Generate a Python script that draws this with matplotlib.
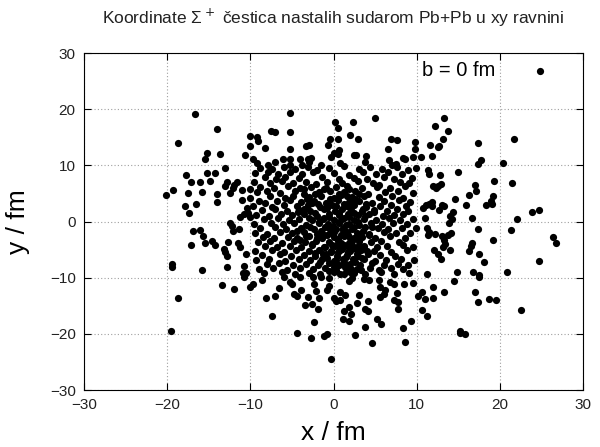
import matplotlib
matplotlib.use('Agg')
import matplotlib.pyplot as plt
import numpy as np

plt.rcParams['font.family'] = ['Liberation Sans', 'DejaVu Sans']

# vanjski dio raspodjele (ocitano s grafa)
halo = [
    (-16.6, 19.1), (-14.0, 16.5), (-18.7, 14.0), (-15.2, 12.3), (-15.5, 11.1), (-13.6, 12.0), (-10.6, 11.8),
    (-10.1, 15.2), (-10.0, 13.5), (-5.3, 19.4), (0.2, 17.7), (0.5, 16.7), (2.3, 17.7), (5.0, 18.4),
    (-7.5, 16.2), (-7.0, 16.0), (-5.2, 16.0), (-9.2, 15.0), (-9.1, 14.3), (-8.2, 13.1), (-5.3, 13.0),
    (-3.3, 13.5), (-2.9, 13.7), (-0.7, 13.7), (-0.4, 14.7), (0.5, 14.7), (2.0, 15.5), (2.9, 14.8),
    (0.7, 12.8), (0.0, 12.2), (-0.3, 11.5), (0.5, 12.0), (2.5, 11.8), (2.7, 11.8), (3.9, 11.7),
    (3.8, 10.6), (6.5, 13.0), (6.9, 14.8), (7.6, 14.5), (9.8, 14.2), (9.8, 12.9), (9.6, 11.5),
    (6.6, 11.0), (8.3, 11.4), (8.6, 11.1), (-9.7, 11.1), (-9.2, 10.4), (-7.1, 10.6), (-7.9, 10.0),
    (-6.1, 11.1), (-5.2, 11.1), (-4.0, 11.1), (-3.1, 11.1), (-2.7, 11.3), (-2.9, 10.6), (-1.5, 10.0),
    (0.8, 10.5), (-5.3, 10.1), (-3.8, 10.1), (7.0, 10.1), (7.5, 10.3),
    (13.3, 18.4), (12.2, 17.1), (13.8, 16.2), (13.2, 14.7), (11.6, 13.7), (12.6, 13.3), (12.7, 13.5),
    (11.8, 11.7), (10.5, 11.5), (17.4, 14.0), (21.7, 14.7), (17.7, 11.0), (17.4, 10.3), (20.4, 10.4),
    (-13.1, 9.5), (-15.2, 8.7), (-14.3, 8.7), (-17.7, 8.3), (-17.1, 7.1), (-16.0, 7.1), (-14.9, 7.3),
    (-12.8, 7.0), (-13.0, 6.3), (-12.0, 6.5), (-11.6, 7.0), (-12.1, 6.0), (-12.4, 5.1), (-19.3, 5.7),
    (-20.1, 4.7), (-17.5, 5.1), (-15.8, 5.3), (-14.0, 4.9), (-14.0, 3.5), (-16.5, 3.2), (-17.9, 2.7),
    (-17.4, 1.5), (-11.0, 5.6), (-11.0, 3.9), (-10.1, 5.8), (-10.1, 4.2), (-10.4, 2.5), (-11.3, 0.9),
    (-10.8, 1.3), (-10.3, 1.5), (-10.1, 0.8), (-12.5, -0.3), (-12.2, -0.8), (-12.1, -1.6), (-11.4, -1.3),
    (-16.9, -1.6), (-16.0, -1.5), (-15.7, -2.5), (-17.1, -4.1), (-15.4, -3.9), (-14.6, -3.5), (-14.2, -4.1),
    (-12.7, -3.7), (-13.2, -4.9), (-13.0, -5.4), (-12.8, -6.1), (-11.5, -3.9), (-11.2, -4.5), (-10.5, -5.7),
    (-19.4, -7.5), (-19.4, -8.1), (-15.8, -8.6), (-12.8, -8.0), (-10.8, -7.9), (-10.9, -9.2), (-10.5, -9.2),
    (-18.7, -13.6), (-19.5, -19.5), (-13.4, -11.3), (-12.0, -12.0), (-10.1, -11.7), (-10.8, -9.9),
    (-8.6, -10.4), (-9.7, -11.1), (-8.1, -13.6), (-7.1, -13.3), (-6.6, -11.8), (-7.4, -16.8), (-5.2, -10.8),
    (-5.0, -11.1), (-4.7, -12.9), (-4.4, -13.3), (-3.9, -12.1), (-3.1, -13.4), (-3.4, -14.9), (-2.6, -14.6),
    (-1.9, -15.5), (-1.7, -13.6), (-2.1, -12.3), (-2.3, -11.1), (-0.8, -12.1), (-0.6, -11.5), (-2.4, -17.9),
    (-4.4, -19.9), (-2.7, -20.7), (-1.1, -20.4), (-0.8, -20.1), (-0.3, -24.4), (0.0, -13.6), (0.3, -14.2),
    (0.8, -13.9), (0.8, -12.6), (1.4, -13.1), (1.2, -16.0), (1.8, -15.3), (2.1, -16.5), (1.1, -17.3),
    (1.9, -17.7), (2.6, -20.2), (2.8, -14.5), (3.1, -13.1), (4.1, -14.2), (3.8, -15.6), (4.1, -16.0),
    (3.8, -18.7), (4.6, -21.7), (5.2, -17.3), (5.7, -18.2), (5.6, -11.7), (6.0, -12.9), (5.6, -13.4),
    (6.2, -12.2), (7.3, -13.9), (7.7, -14.3), (7.8, -15.6), (7.6, -12.7), (6.8, -10.8), (7.3, -11.1),
    (8.5, -11.1), (9.5, -10.9), (9.3, -17.7), (8.4, -19.0), (8.6, -21.5), (4.3, -10.4), (5.4, -10.4),
    (3.6, -10.2), (1.8, -10.5), (2.2, -10.1), (-0.5, -10.0), (-1.5, -9.9), (-2.5, -9.9), (-4.0, -9.9),
    (-6.0, -9.9),
    (14.5, -10.5), (17.5, -9.9), (12.0, -11.6), (13.3, -12.6), (10.6, -12.6), (10.1, -13.3), (11.0, -13.8),
    (12.0, -13.6), (10.6, -15.8), (11.2, -16.8), (17.0, -12.6), (17.4, -14.3), (18.7, -13.8), (19.5, -14.0),
    (22.5, -15.8), (15.2, -19.4), (15.2, -19.8), (15.8, -20.0),
    (11.3, 9.2), (11.5, 8.4), (12.8, 8.3), (14.9, 8.8), (9.9, 9.5), (19.3, 7.3), (21.4, 6.8),
    (17.0, 6.6), (17.1, 5.4), (12.0, 6.4), (12.3, 6.0), (12.9, 6.7), (12.5, 6.3), (16.3, 4.7),
    (14.6, 4.0), (19.2, 4.5), (18.9, 3.7), (19.0, 3.1), (18.3, 2.9), (15.9, 2.9), (11.8, 3.5),
    (11.5, 3.1), (10.8, 2.5), (11.1, 2.9), (11.8, 2.8), (13.0, 2.9), (13.3, 2.8), (12.7, 2.0),
    (14.3, 1.7), (14.0, 1.0), (14.2, 0.4), (13.9, -0.3), (11.0, 0.6), (16.6, 0.6), (9.9, -1.2),
    (23.9, 1.7), (24.7, 2.0), (22.1, 0.4), (11.2, -1.1), (11.5, -1.8), (11.4, -2.4), (12.2, -2.2),
    (13.0, -2.6), (13.3, -3.3), (13.4, -4.0), (13.2, -4.5), (13.8, -2.4), (14.1, -2.0), (17.4, -1.3),
    (19.2, -3.2), (16.6, -3.8), (16.5, -4.4), (16.3, -5.3), (14.0, -5.0), (12.1, -5.0), (12.6, -5.7),
    (12.9, -6.6), (17.5, -5.8), (18.1, -7.2), (21.3, -1.5), (26.4, -2.8), (26.7, -3.9), (24.7, -7.0),
    (11.2, -9.3), (14.8, -9.0), (16.8, -9.0), (17.5, -9.5), (20.8, -9.0),
]

# gusti sredisnji dio (procjena)
core = [
    (-8.8, 9.6), (-7.4, 9.3), (-6.0, 9.8), (-4.6, 9.4), (-3.1, 9.7), (-2.0, 9.2), (-0.6, 9.6), (1.3, 9.9),
    (3.0, 9.3), (4.4, 9.7), (5.8, 9.4), (7.6, 9.8), (8.9, 9.2),
    (-9.4, 8.6), (-7.9, 8.9), (-6.7, 8.4), (-5.3, 8.8), (-3.8, 8.5), (-2.5, 8.9), (0.1, 8.6), (1.9, 8.3),
    (3.5, 8.8), (5.1, 8.5), (6.5, 8.9), (8.2, 8.4),
    (-8.3, 7.9), (-6.9, 7.6), (-5.9, 8.0), (-4.2, 7.7), (-1.4, 7.9), (0.6, 7.5), (2.4, 7.8), (4.0, 7.6),
    (6.0, 7.9), (7.3, 7.5), (9.4, 7.8),
    (-9.6, 7.0), (-7.6, 6.8), (-6.2, 7.2), (-4.9, 6.9), (-3.3, 7.1), (-2.1, 6.7), (-0.8, 7.0), (1.0, 6.8),
    (2.9, 7.2), (4.7, 6.9), (5.5, 6.6), (8.0, 7.1), (9.1, 6.8),
    (-8.9, 6.2), (-7.2, 5.9), (-5.5, 6.3), (-4.0, 6.0), (-2.7, 6.2), (-1.1, 5.8), (0.3, 6.1), (1.6, 6.4),
    (3.4, 5.9), (5.2, 6.2), (6.8, 6.0), (8.6, 6.3),
    (-9.2, 5.3), (-8.0, 5.5), (-6.5, 5.1), (-4.6, 5.4), (-3.5, 5.0), (-1.8, 5.3), (-0.4, 5.5), (1.2, 5.2),
    (2.6, 5.4), (4.1, 5.0), (6.2, 5.3), (7.7, 5.5), (9.5, 5.1),
    (-7.6, 4.5), (-5.9, 4.2), (-4.9, 4.6), (-2.9, 4.3), (-1.5, 4.5), (0.0, 4.2), (0.9, 4.7), (2.2, 4.4),
    (3.7, 4.6), (5.5, 4.3), (7.0, 4.5), (8.4, 4.2),
    (-9.0, 3.7), (-8.2, 3.4), (-6.8, 3.6), (-5.2, 3.8), (-3.9, 3.5), (-2.4, 3.7), (-0.9, 3.4), (0.5, 3.8),
    (1.8, 3.5), (3.0, 3.7), (4.6, 3.4), (6.1, 3.6), (7.9, 3.8), (9.2, 3.5),
    (-9.7, 2.8), (-7.4, 2.6), (-6.0, 3.0), (-4.4, 2.7), (-3.1, 2.9), (-1.6, 2.6), (-0.2, 2.9), (1.4, 2.7),
    (2.5, 3.0), (3.9, 2.6), (5.6, 2.8), (6.9, 3.0), (8.7, 2.7),
    (-8.6, 2.0), (-7.0, 2.2), (-5.6, 1.8), (-4.1, 2.1), (-2.8, 1.9), (-1.2, 2.2), (0.2, 1.9), (1.0, 2.3),
    (2.1, 2.0), (3.4, 1.8), (4.8, 2.1), (6.4, 1.9), (7.6, 2.2), (9.0, 1.8),
    (-9.3, 1.2), (-7.8, 1.0), (-6.3, 1.4), (-5.0, 1.1), (-3.6, 1.3), (-2.0, 1.0), (-0.6, 1.3), (0.7, 1.1),
    (1.7, 1.4), (2.9, 1.1), (4.2, 1.3), (5.9, 1.0), (7.3, 1.2), (8.3, 1.4),
    (-8.4, 0.4), (-6.7, 0.6), (-5.4, 0.3), (-4.2, 0.5), (-2.6, 0.2), (-1.3, 0.5), (0.0, 0.3), (1.3, 0.6),
    (2.4, 0.2), (3.6, 0.5), (5.1, 0.3), (6.6, 0.6), (8.0, 0.2), (9.6, 0.5),
    (-9.6, -0.4), (-7.5, -0.2), (-6.1, -0.5), (-4.7, -0.3), (-3.3, -0.6), (-1.8, -0.3), (-0.7, -0.5),
    (0.6, -0.2), (1.9, -0.4), (3.1, -0.6), (4.5, -0.3), (5.8, -0.5), (7.1, -0.2), (8.8, -0.4),
    (-8.8, -1.2), (-7.1, -1.0), (-5.7, -1.4), (-3.9, -1.1), (-2.4, -1.3), (-1.0, -1.0), (0.3, -1.4),
    (1.1, -1.1), (2.2, -1.3), (3.8, -1.0), (5.3, -1.2), (6.5, -1.4), (8.2, -1.1),
    (-9.4, -2.0), (-8.0, -2.2), (-6.4, -1.8), (-5.0, -2.1), (-3.5, -1.9), (-2.0, -2.2), (-0.4, -2.0),
    (0.9, -2.3), (1.6, -1.9), (2.8, -2.1), (4.3, -2.2), (6.0, -1.9), (7.5, -2.1), (9.2, -2.0),
    (-8.5, -2.8), (-7.2, -3.0), (-5.5, -2.7), (-4.4, -2.9), (-2.9, -2.6), (-1.4, -3.0), (0.1, -2.8),
    (1.3, -2.6), (2.4, -3.0), (3.4, -2.7), (5.0, -2.9), (6.8, -2.6), (8.6, -2.9),
    (-9.1, -3.6), (-7.7, -3.4), (-6.2, -3.8), (-4.8, -3.5), (-3.4, -3.7), (-2.1, -3.4), (-0.6, -3.7),
    (0.5, -3.5), (1.9, -3.8), (3.0, -3.5), (4.5, -3.7), (5.7, -3.4), (7.9, -3.6),
    (-8.2, -4.4), (-6.8, -4.6), (-5.3, -4.3), (-3.9, -4.5), (-2.6, -4.2), (-1.2, -4.6), (0.2, -4.4),
    (1.2, -4.2), (2.5, -4.5), (3.7, -4.3), (5.2, -4.6), (6.4, -4.4), (8.3, -4.2), (9.5, -4.5),
    (-9.5, -5.2), (-7.4, -5.0), (-6.0, -5.4), (-4.5, -5.1), (-3.0, -5.3), (-1.7, -5.0), (-0.3, -5.4),
    (0.8, -5.1), (2.0, -5.3), (3.3, -5.0), (4.8, -5.2), (6.9, -5.4), (8.8, -5.1),
    (-8.6, -6.0), (-6.5, -5.8), (-5.1, -6.2), (-3.6, -5.9), (-2.2, -6.1), (-0.9, -5.8), (0.4, -6.2),
    (1.6, -5.9), (2.9, -6.1), (4.1, -5.8), (5.6, -6.0), (7.4, -6.2),
    (-9.3, -6.8), (-7.8, -6.6), (-5.8, -7.0), (-4.2, -6.7), (-2.8, -6.9), (-1.4, -6.6), (0.0, -7.0),
    (1.1, -6.7), (2.4, -6.9), (3.6, -6.6), (5.0, -7.0), (6.3, -6.8), (8.1, -6.6), (9.7, -6.9),
    (-8.0, -7.6), (-6.6, -7.4), (-4.9, -7.8), (-3.3, -7.5), (-1.9, -7.7), (-0.5, -7.4), (0.7, -7.8),
    (2.0, -7.5), (3.2, -7.7), (4.6, -7.4), (6.0, -7.8), (7.7, -7.5), (9.0, -7.7),
    (-9.0, -8.4), (-7.3, -8.2), (-5.6, -8.6), (-4.0, -8.3), (-2.5, -8.5), (-1.0, -8.2), (0.3, -8.6),
    (1.5, -8.3), (2.8, -8.5), (4.4, -8.2), (5.4, -8.6), (6.9, -8.3), (8.4, -8.5),
    (-8.4, -9.2), (-6.2, -9.0), (-4.6, -9.4), (-3.0, -9.1), (-1.6, -9.3), (0.0, -9.0), (1.2, -9.4),
    (2.5, -9.1), (3.8, -9.3), (5.7, -9.0), (7.3, -9.4), (9.1, -9.1),
]

inner = [
    (-3.6, 5.8), (-2.2, 4.9), (-0.9, 5.9), (0.6, 5.0), (1.9, 5.8), (3.1, 4.9), (-3.2, 4.0), (-1.9, 3.2),
    (-0.4, 4.0), (1.3, 3.1), (2.6, 4.1), (3.5, 2.3), (-3.5, 2.2), (-2.2, 1.5), (-0.8, 2.4), (0.6, 1.6),
    (1.8, 2.6), (2.5, 1.5), (3.8, 1.0), (-3.0, 0.7), (-1.8, 0.0), (-0.5, 0.9), (0.7, 0.0), (1.8, 0.9),
    (2.9, -0.1), (-2.8, -1.0), (-1.5, -1.6), (-0.1, -0.8), (1.1, -1.5), (2.4, -0.9), (3.5, -1.7),
    (-3.3, -2.5), (-2.0, -3.0), (-0.8, -2.3), (0.5, -3.1), (1.7, -2.4), (3.0, -3.2), (-2.6, -4.0),
    (-1.0, -4.6), (0.6, -4.0), (1.9, -4.7), (3.1, -4.1), (4.0, -5.3), (-2.2, -5.6), (-0.8, -6.4),
    (0.5, -5.5), (1.5, -6.3), (2.8, -5.8), (-1.6, -7.2), (0.2, -7.3), (1.4, -8.0), (2.6, -7.2),
    (3.3, -8.6), (-0.6, -8.8), (0.8, -9.4), (2.0, -9.0), (1.0, -4.9), (2.2, -3.5), (0.0, -1.8),
    (-1.2, 0.6), (0.3, 2.7), (-0.3, -5.2), (2.3, -6.6), (4.2, -2.4), (3.9, 3.2), (-4.3, 1.7),
    (-4.4, -1.6), (-4.0, -3.2), (4.6, -0.9), (4.9, 1.7),
    (1.5, -0.6), (2.0, -2.9), (0.9, -3.8), (1.7, -5.5), (0.3, -6.8), (2.7, -4.9), (1.2, -7.2),
    (2.1, -8.4), (-0.2, -4.1), (3.4, -6.4), (1.0, 0.4), (2.2, 3.4), (-0.6, -1.2), (3.6, -4.7),
    (-1.3, -5.8), (0.1, -8.1), (2.9, -2.4), (1.6, 4.6), (-2.6, 3.3), (-1.4, -2.0),
]

pts = np.array(halo + core + inner)
x = pts[:, 0]
y = pts[:, 1]

fig = plt.figure(figsize=(6.0, 4.47), dpi=100)
ax = fig.add_axes([0.14, 0.1275, 0.832, 0.7535])

ax.scatter(x, y, s=27, c='black', marker='o', linewidths=0, label='b = 0 fm')

ax.set_xlim(-30, 30)
ax.set_ylim(-30, 30)
ax.set_xticks(np.arange(-30, 31, 10))
ax.set_yticks(np.arange(-30, 31, 10))
ax.tick_params(direction='in', top=True, right=True, length=5, labelsize=11, pad=6, labelcolor='#222222')
ax.grid(True, linestyle=(0, (1, 2)), color='#a0a0a0', linewidth=0.8)
ax.set_axisbelow(True)

ax.set_xlabel('x / fm', fontsize=19, labelpad=6)
ax.set_ylabel('y / fm', fontsize=19, labelpad=14)
ax.set_title('Koordinate Σ$^+$ čestica nastalih sudarom Pb+Pb u xy ravnini', fontsize=12.5, pad=21,
             color='#222222')

ax.legend(loc='upper right', bbox_to_anchor=(0.97, 1.0), borderaxespad=0, markerfirst=False,
          frameon=False, fontsize=14.5, handletextpad=1.2, scatterpoints=1)

plt.savefig('out.png', dpi=100)
